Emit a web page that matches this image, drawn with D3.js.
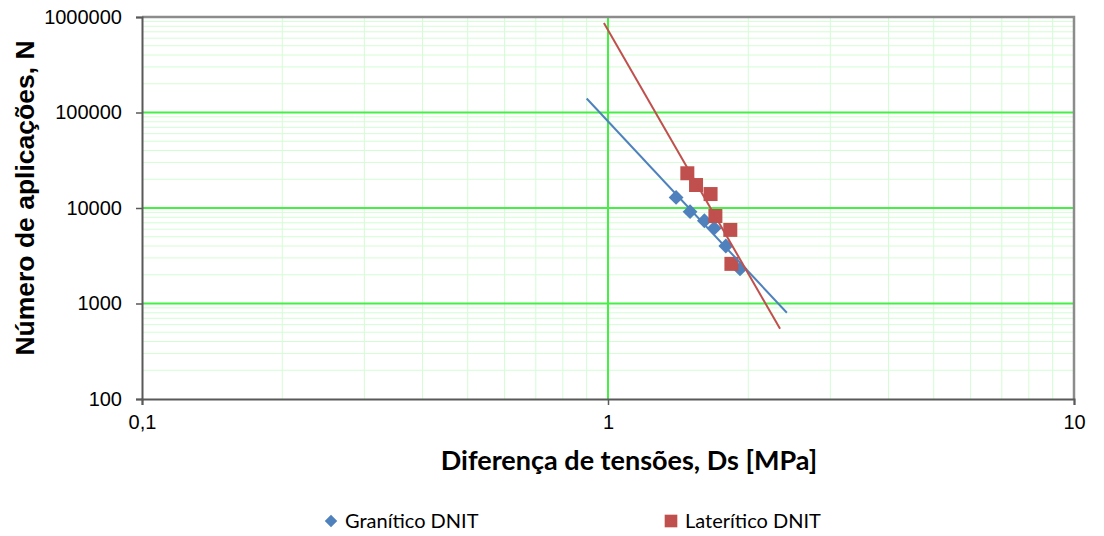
<!DOCTYPE html>
<html lang="pt">
<head>
<meta charset="UTF-8">
<title>Número de aplicações x Diferença de tensões</title>
<script src="https://d3js.org/d3.v7.min.js"></script>
<style>
  body { margin: 0; background: #fff; }
  svg { display: block; }
</style>
</head>
<body>
<svg width="1104" height="536"></svg>
<script>
// data
var seriesNames = ["Granítico DNIT", "Laterítico DNIT"];
var graniticoDs = [1.40, 1.50, 1.61, 1.69, 1.79, 1.92];
var graniticoN  = [12900, 9150, 7350, 6150, 4000, 2300];
var lateriticoDs = [1.48, 1.545, 1.66, 1.70, 1.83, 1.84];
var lateriticoN  = [23100, 17400, 14000, 8250, 5900, 2600];
var xTicks = [0.1, 1, 10];
var xTickLabels = ["0,1", "1", "10"];
var yTicks = [100, 1000, 10000, 100000, 1000000];
var trendForecast = 0.5; // Excel trendline forward / backward forecast

var margin = {top: 17, right: 30, bottom: 137, left: 142};
var width = 1104 - margin.left - margin.right;   // 932
var height = 536 - margin.top - margin.bottom;   // 382

var x = d3.scaleLog().domain([0.1, 10]).range([0, width]);
var y = d3.scaleLog().domain([100, 1000000]).range([height, 0]);

var svg = d3.select("svg");
var g = svg.append("g")
    .attr("transform", "translate(" + margin.left + "," + margin.top + ")");

// minor grid
var minorX = [], minorY = [];
[0.1, 1].forEach(function(d) { for (var k = 2; k <= 9; k++) minorX.push(d * k); });
[100, 1000, 10000, 100000].forEach(function(d) { for (var k = 2; k <= 9; k++) minorY.push(d * k); });

g.selectAll(".minor-x").data(minorX).enter().append("line")
    .attr("x1", function(d) { return x(d); }).attr("x2", function(d) { return x(d); })
    .attr("y1", 0).attr("y2", height)
    .attr("stroke", "#d4fcd4").attr("stroke-width", 1);
g.selectAll(".minor-y").data(minorY).enter().append("line")
    .attr("y1", function(d) { return y(d); }).attr("y2", function(d) { return y(d); })
    .attr("x1", 0).attr("x2", width)
    .attr("stroke", "#d4fcd4").attr("stroke-width", 1);

// major grid
g.selectAll(".major-x").data([1]).enter().append("line")
    .attr("x1", function(d) { return x(d); }).attr("x2", function(d) { return x(d); })
    .attr("y1", 0).attr("y2", height)
    .attr("stroke", "#44f044").attr("stroke-width", 2);
g.selectAll(".major-y").data([1000, 10000, 100000]).enter().append("line")
    .attr("y1", function(d) { return y(d); }).attr("y2", function(d) { return y(d); })
    .attr("x1", 0).attr("x2", width)
    .attr("stroke", "#44f044").attr("stroke-width", 2);

// plot area border (top / right)
g.append("path")
    .attr("d", "M0,0H" + width + "V" + height)
    .attr("fill", "none").attr("stroke", "#8c8c8c").attr("stroke-width", 2.5);

// axes
var xAxis = g.append("g")
    .attr("transform", "translate(0," + height + ")")
    .call(d3.axisBottom(x).tickValues(xTicks).tickSize(6)
        .tickFormat(function(d, i) { return xTickLabels[i]; }));
var yAxis = g.append("g")
    .call(d3.axisLeft(y).tickValues(yTicks).tickSize(6)
        .tickFormat(d3.format("d")));

[xAxis, yAxis].forEach(function(a) {
    a.select(".domain").attr("stroke", "#595959").attr("stroke-width", 2);
    a.selectAll(".tick line").attr("stroke", "#595959").attr("stroke-width", 1.5);
    a.selectAll("text")
        .attr("font-family", "'Liberation Sans', Arial, sans-serif")
        .attr("font-size", "20px").attr("fill", "#000");
});
xAxis.selectAll("text").attr("dy", "1.05em");
yAxis.selectAll("text").attr("x", -20);

// power trendline like Excel: least squares on log10 values
function powerFit(xs, ys) {
    var lx = xs.map(Math.log10), ly = ys.map(Math.log10);
    var mx = d3.mean(lx), my = d3.mean(ly);
    var sxy = d3.sum(lx, function(v, i) { return (v - mx) * (ly[i] - my); });
    var sxx = d3.sum(lx, function(v) { return (v - mx) * (v - mx); });
    var b = sxy / sxx;
    var a = Math.pow(10, my - b * mx);
    return function(v) { return a * Math.pow(v, b); };
}

g.append("clipPath").attr("id", "plot-clip")
    .append("rect").attr("width", width).attr("height", height);

var series = [
    {name: seriesNames[0], xs: graniticoDs, ys: graniticoN, color: "#4f81bd", shape: "diamond"},
    {name: seriesNames[1], xs: lateriticoDs, ys: lateriticoN, color: "#c0504d", shape: "square"}
];

var diamond = d3.symbol().type(d3.symbolDiamond2).size(140);
var square = d3.symbol().type(d3.symbolSquare).size(196);

series.forEach(function(s) {
    var pts = s.xs.map(function(v, i) { return {x: v, y: s.ys[i]}; });
    g.append("g").selectAll("path").data(pts).enter().append("path")
        .attr("transform", function(d) { return "translate(" + x(d.x) + "," + y(d.y) + ")"; })
        .attr("d", s.shape === "diamond" ? diamond : square)
        .attr("fill", s.color);
});

var trendLine = d3.line()
    .x(function(d) { return x(d[0]); })
    .y(function(d) { return y(d[1]); });

series.forEach(function(s) {
    var f = powerFit(s.xs, s.ys);
    var x0 = d3.min(s.xs) - trendForecast, x1 = d3.max(s.xs) + trendForecast;
    g.append("path")
        .attr("clip-path", "url(#plot-clip)")
        .attr("d", trendLine([[x0, f(x0)], [x1, f(x1)]]))
        .attr("fill", "none")
        .attr("stroke", s.color)
        .attr("stroke-width", 2);
});

// axis titles
svg.append("text")
    .attr("x", 629).attr("y", 470)
    .attr("text-anchor", "middle")
    .attr("font-family", "Lato, 'Open Sans', sans-serif")
    .attr("font-weight", "bold")
    .attr("font-size", "27px")
    .text("Diferença de tensões, Ds [MPa]");

svg.append("text")
    .attr("transform", "translate(34,198) rotate(-90)")
    .attr("text-anchor", "middle")
    .attr("font-family", "'Liberation Sans', Arial, sans-serif")
    .attr("font-weight", "bold")
    .attr("font-size", "26.5px")
    .text("Número de aplicações, N");

// legend
var legend = svg.append("g");
var legendX = [331, 671];
series.forEach(function(s, i) {
    legend.append("path")
        .attr("transform", "translate(" + legendX[i] + ",521)")
        .attr("d", s.shape === "diamond" ? d3.symbol().type(d3.symbolDiamond2).size(100)
                                        : d3.symbol().type(d3.symbolSquare).size(160))
        .attr("fill", s.color);
    legend.append("text")
        .attr("x", legendX[i] + 14).attr("y", 528)
        .attr("font-family", "Lato, 'Open Sans', sans-serif")
        .attr("font-size", "20px")
        .text(s.name);
});
</script>
</body>
</html>
